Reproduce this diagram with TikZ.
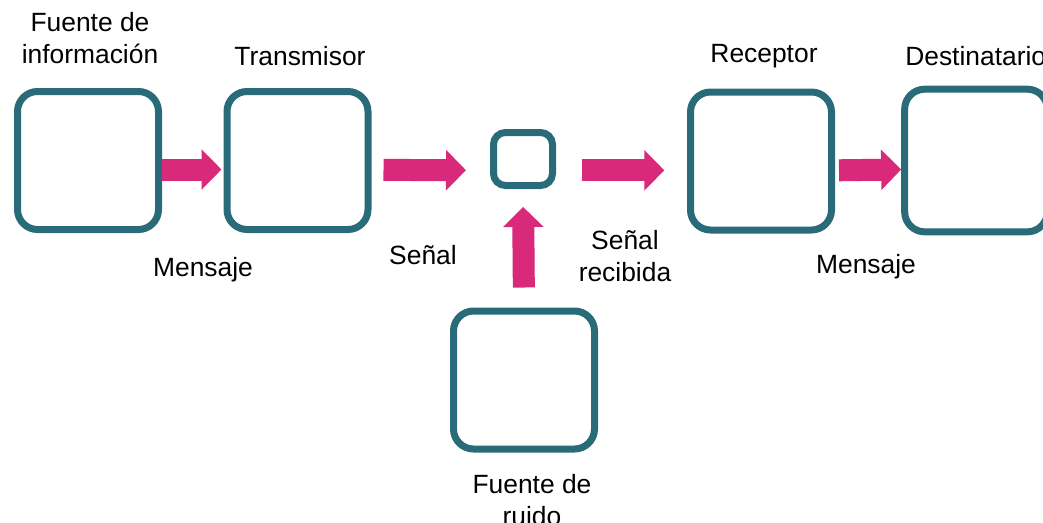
\documentclass[tikz,border=0pt]{standalone}
\usepackage{fontspec}
\setmainfont{Liberation Sans}
\usetikzlibrary{positioning, arrows.meta}
\definecolor{boxteal}{HTML}{2A6B79}
\definecolor{flowpink}{HTML}{D8297A}

\tikzset{
  block/.style={rectangle, draw=boxteal, line width=5.25pt,
    rounded corners=15pt, fill=white,
    minimum width=105.75pt, minimum height=103.5pt},
  flow/.style={draw=flowpink, line width=16.5pt,
    -{Triangle[length=15pt, width=29.5pt, fill=flowpink]}},
  txt/.style={font=\fontsize{19.8}{23.5}\selectfont, align=center, inner sep=0pt}
}

\begin{document}
\begin{tikzpicture}[x=0.75pt, y=-0.75pt]
    \useasboundingbox (0,0) rectangle (1043,522);

    \node[block] (fuente) at (88,160.5) {};
    \node[block] (trans) at (297.5,160.5) {};
    \node[block, rounded corners=9pt,
    minimum width=44.25pt,
    minimum height=39.75pt] (canal) at (523,159) {};
    \node[block] (recep) at (761,161) {};
    \node[block, minimum width=107pt,
    minimum height=107pt] (dest) at (976,160.5) {};
    \node[block] (ruido) at (524,380) {};

    \node[txt] (lfuente) at (90,38) {Fuente de\\información};
    \node[txt] (ltrans) at (300,56) {Transmisor};
    \node[txt] (lrecep) at (764,56) {Receptor};
    \node[txt, anchor=west] (ldest) at (905,56) {Destinatario};
    \node[txt] (lruido) at (532,500) {Fuente de\\ruido};

    \node[txt] (lmen1) at (203,270) {Mensaje};
    \node[txt] (lsenal) at (423,255) {Señal};
    \node[txt] (lrec) at (625,256) {Señal\\recibida};
    \node[txt] (lmen2) at (866,267) {Mensaje};

    % flechas
    \draw[flow, shorten >=1.5pt] ([yshift=-6.75pt]fuente.east) -- ([yshift=-6.75pt]trans.west);
    \draw[flow, shorten <=9pt, shorten >=18pt] ([yshift=-7pt]trans.east) -- ([yshift=-8.5pt]canal.west);
    \draw[flow, shorten <=19.5pt, shorten >=17pt] ([yshift=-8.5pt]canal.east) -- ([yshift=-7pt]recep.west);
    \draw[flow, shorten <=3pt] ([yshift=-7pt]recep.east) -- ([yshift=-6.75pt]dest.west);
    \draw[flow, shorten <=15pt, shorten >=13.5pt] (ruido.north) -- (canal.south);
\end{tikzpicture}
\end{document}
